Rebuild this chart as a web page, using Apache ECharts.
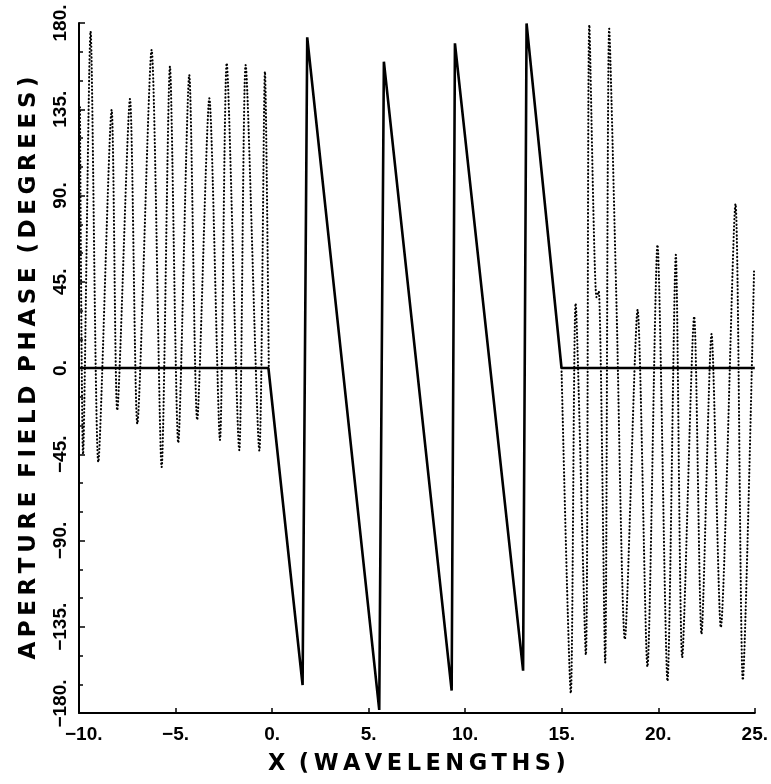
<!DOCTYPE html>
<html>
<head>
<meta charset="utf-8">
<script src="https://cdn.jsdelivr.net/npm/echarts@6/dist/echarts.min.js"></script>
<style>
  html, body { margin: 0; padding: 0; background: #ffffff; }
  #chart { width: 771px; height: 784px; }
</style>
</head>
<body>
<div id="chart"></div>
<script>
// Phase of the field across the aperture plane (solid) and the
// surrounding field outside it (dotted), versus position in wavelengths.

// solid curve: linear phase wrapped into [-180, 180]
const apertureX = [-10, -0.19, 1.58, 1.82, 5.55, 5.79, 9.30, 9.47, 13.00, 13.18, 14.99, 25];
const apertureY = [0, 0, -165.4, 172.5, -178.4, 159.8, -168.3, 169.4, -157.9, 179.8, 0, 0];

// dotted curve, left of the aperture
const leftX = [-9.95, -9.79, -9.40, -9.00, -8.31, -8.02, -7.36, -6.98, -6.24, -5.72, -5.29,
               -4.86, -4.29, -3.88, -3.25, -2.70, -2.35, -1.70, -1.37, -0.66, -0.37, -0.17];
const leftY = [136, -45, 175.5, -49, 134.6, -22, 140.3, -29, 165.9, -51.6, 157.2,
               -39, 152.8, -27, 140.7, -37.5, 159, -42.8, 158, -43, 154.6, 0];

// dotted curve, right of the aperture
const rightX = [14.99, 15.47, 15.72, 16.25, 16.43, 16.80, 16.92, 17.25, 17.46, 17.84, 18.27,
                18.93, 19.44, 19.96, 20.48, 20.91, 21.24, 21.86, 22.24, 22.76, 23.24, 24.00,
                24.38, 24.96];
const rightY = [0, -169.7, 33.7, -149.7, 179, 37, 40, -153.7, 177, 32, -141.5,
                30.3, -155.8, 64.2, -163.3, 59, -150.9, 26.8, -138.8, 17.7, -135.3, 85.5,
                -162.8, 50.3];

// axis ticks and their printed labels
const xTickValues = [-10, -5, 0, 5, 10, 15, 20, 25];
const xTickLabels = ['\u221210.', '\u22125.', '0.', '5.', '10.', '15.', '20.', '25.'];
const yTickValues = [-180, -135, -90, -45, 0, 45, 90, 135, 180];
const yTickLabels = ['\u2212180.', '\u2212135.', '\u221290.', '\u221245.', '0.', '45.', '90.', '135.', '180.'];

const xTitle = 'X (WAVELENGTHS)';
const yTitle = 'APERTURE FIELD PHASE (DEGREES)';

function pairs(xs, ys) { return xs.map((x, i) => [x, ys[i]]); }
// widen lettering with thin spaces between characters
function spaced(s) {
  return s.split(' ').map(w => w.split('').join('\u2009')).join('\u2009\u2009\u2009');
}

const tickFont = "'Liberation Sans', 'DejaVu Sans Condensed', sans-serif";
const titleFont = "'DejaVu Sans', 'Liberation Sans', sans-serif";

const chart = echarts.init(document.getElementById('chart'), null, { renderer: 'canvas' });

chart.setOption({
  animation: false,
  backgroundColor: '#ffffff',
  grid: { left: 79, right: 16, top: 23, bottom: 71, containLabel: false },
  xAxis: {
    type: 'value', min: -10, max: 25, interval: 5,
    name: spaced(xTitle), nameLocation: 'middle', nameGap: 40,
    nameTextStyle: { color: '#000', fontFamily: titleFont, fontWeight: 'bold', fontSize: 22.5 },
    axisLine: { show: true, onZero: false, lineStyle: { color: '#000', width: 2 } },
    axisTick: { show: true, inside: true, length: 5, lineStyle: { color: '#000', width: 1.5 } },
    splitLine: { show: false },
    axisLabel: {
      color: '#000', fontFamily: tickFont, fontWeight: 'bold', fontSize: 19, margin: 12,
      formatter: v => {
        const i = xTickValues.indexOf(v);
        if (i < 0) return '';
        // first label sits a little right of the corner
        return v === -10 ? '\u2002' + xTickLabels[i] : xTickLabels[i];
      }
    }
  },
  yAxis: {
    type: 'value', min: -180, max: 180, interval: 45,
    name: spaced(yTitle), nameLocation: 'middle', nameGap: 38,
    nameTextStyle: { color: '#000', fontFamily: titleFont, fontWeight: 'bold', fontSize: 23 },
    axisLine: { show: true, onZero: false, lineStyle: { color: '#000', width: 2 } },
    axisTick: { show: true, inside: true, length: 6, lineStyle: { color: '#000', width: 1.5 } },
    minorTick: { show: true, splitNumber: 3, length: 4, lineStyle: { color: '#000', width: 1.5 } },
    splitLine: { show: false },
    axisLabel: {
      color: '#000', fontFamily: tickFont, fontWeight: 'bold', fontSize: 19, margin: 9, rotate: 90,
      formatter: v => {
        const i = yTickValues.indexOf(v);
        if (i < 0) return '';
        // lowest label is lifted clear of the corner
        return v === -180 ? '\u2003' + yTickLabels[i] : yTickLabels[i];
      }
    }
  },
  series: [
    {
      type: 'line', data: pairs(leftX, leftY), showSymbol: false, smooth: 0.25,
      lineStyle: { color: '#000', width: 2.1, type: [0.3, 3.3], cap: 'round' }
    },
    {
      type: 'line', data: pairs(rightX, rightY), showSymbol: false, smooth: 0.25,
      lineStyle: { color: '#000', width: 2.1, type: [0.3, 3.3], cap: 'round' }
    },
    {
      type: 'line', data: pairs(apertureX, apertureY), showSymbol: false,
      lineStyle: { color: '#000', width: 2.6, type: 'solid' }
    }
  ]
});
</script>
</body>
</html>
